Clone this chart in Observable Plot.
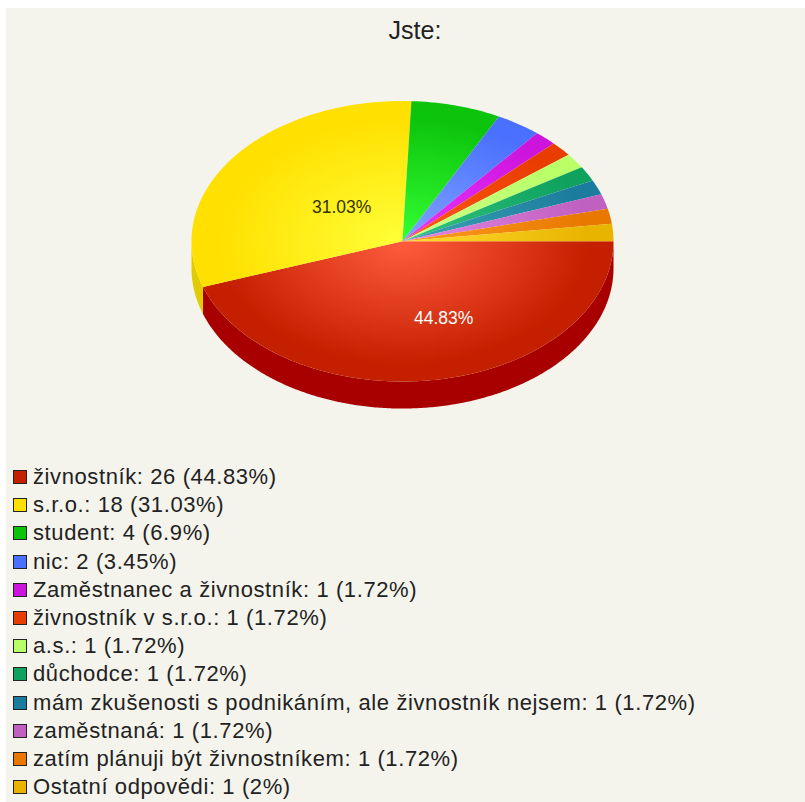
<!DOCTYPE html>
<html lang="cs">
<head>
<meta charset="utf-8">
<title>Jste:</title>
<script src="https://cdn.jsdelivr.net/npm/d3@7"></script>
<script src="https://cdn.jsdelivr.net/npm/@observablehq/plot@0.6"></script>
<style>
  html, body { margin: 0; padding: 0; background: #fff; }
  #page {
    position: absolute; left: 6px; top: 8px; width: 799px; height: 794px;
    background: #f4f4ec; color: #222; font-family: "Liberation Sans", Arial, sans-serif; overflow: hidden;
  }
  #heading { position: absolute; top: 8px; left: 0; width: 818px; text-align: center; font-size: 25px; line-height: 28px; }
  #chart { position: absolute; left: -6px; top: -8px; }
  #legend { position: absolute; left: 7px; top: 455px; font-size: 22px; letter-spacing: 0.6px; }
  .row { display: flex; align-items: center; height: 28.2px; white-space: nowrap; }
  .swatch { box-sizing: border-box; width: 14px; height: 14px; border: 1.5px solid #222; margin-right: 6px; flex: none; }
</style>
</head>
<body>
<div id="page">
  <div id="heading">Jste:</div>
  <div id="chart"></div>
  <div id="legend"></div>
</div>
<script>
const categories = ["živnostník", "s.r.o.", "student", "nic", "Zaměstnanec a živnostník", "živnostník v s.r.o.", "a.s.", "důchodce", "mám zkušenosti s podnikáním, ale živnostník nejsem", "zaměstnaná", "zatím plánuji být živnostníkem", "Ostatní odpovědi"];
const counts = [26, 18, 4, 2, 1, 1, 1, 1, 1, 1, 1, 1];
const shares = [44.83, 31.03, 6.9, 3.45, 1.72, 1.72, 1.72, 1.72, 1.72, 1.72, 1.72, 2];
const outerColors = ["#c42000", "#ffe000", "#0cc40c", "#4a70ff", "#cc14dc", "#e83c00", "#b8ff68", "#0ea25e", "#1c7c9e", "#c060c0", "#e87800", "#e8b400"];
const innerColors = ["#ff5c3e", "#ffff38", "#34ff34", "#80a4ff", "#ea34ff", "#ff5a18", "#ccff88", "#34c482", "#3ea4b4", "#e488e4", "#ff9c20", "#ffdc30"];
const wallColors = ["#a80000", "#e0cc00"];
const labelColors = ["#ffffff", "#333300"];
const labelledSlices = [0, 1];

// Pie geometry in unit coordinates, y growing downward; the scales flatten the circle into an ellipse.
const wallDrop = 27 / 140;
const TAU = Math.PI * 2;
const angles = d3.pie().sort(null).startAngle(0).endAngle(TAU)(shares);
const arcPoints = (a0, a1, r = 1, drop = 0) => {
  const n = Math.max(2, Math.ceil((a1 - a0) / 0.01));
  return d3.range(n + 1).map(i => {
    const t = a0 + (a1 - a0) * i / n;
    return {x: r * Math.cos(t), y: r * Math.sin(t) + drop};
  });
};
const faces = angles.map(s => [{x: 0, y: 0}, ...arcPoints(s.startAngle, s.endAngle)]);
const walls = wallColors.map((_, i) => {
  const a0 = angles[i].startAngle, a1 = Math.min(angles[i].endAngle, Math.PI);
  return [...arcPoints(a0, a1), ...arcPoints(a0, a1, 1, wallDrop).reverse()];
});
const labels = labelledSlices.map(i => {
  const mid = (angles[i].startAngle + angles[i].endAngle) / 2;
  return {x: 0.5 * Math.cos(mid), y: 0.5 * Math.sin(mid), text: `${shares[i]}%`, fill: labelColors[i]};
});

// Radial shading shared by the top faces, defined in the pixel space of the plot.
const gradients = () => {
  const defs = d3.create("svg:defs");
  outerColors.forEach((c, i) => {
    const g = defs.append("radialGradient").attr("id", `slice${i}`)
      .attr("gradientUnits", "userSpaceOnUse")
      .attr("cx", 0).attr("cy", 0).attr("r", 1)
      .attr("gradientTransform", "translate(402 241) scale(211 140)");
    g.append("stop").attr("offset", "0%").attr("stop-color", innerColors[i]);
    g.append("stop").attr("offset", "88%").attr("stop-color", c);
  });
  return defs.node();
};

const plot = Plot.plot({
  width: 805, height: 440,
  margin: 0,
  style: {background: "transparent", overflow: "visible"},
  x: {type: "linear", domain: [-1, 1], range: [191, 613], axis: null},
  y: {type: "linear", domain: [-1, 1], range: [100.5, 381], axis: null},
  marks: [
    gradients,
    ...walls.map((pts, i) => Plot.line(pts, {x: "x", y: "y", fill: wallColors[i], stroke: "none"})),
    ...faces.map((pts, i) => Plot.line(pts, {x: "x", y: "y", fill: `url(#slice${i})`, stroke: "none"})),
    Plot.text(labels, {x: "x", y: "y", text: "text", fill: "fill", textAnchor: "start", dx: -6, dy: 8, fontSize: 17.5, fontFamily: "Liberation Sans"})
  ]
});
document.getElementById("chart").append(plot);

// Legend rows below the pie.
const legend = d3.select("#legend");
categories.forEach((name, i) => {
  const row = legend.append("div").attr("class", "row");
  row.append("span").attr("class", "swatch").style("background", outerColors[i]);
  row.append("span").text(`${name}: ${counts[i]} (${shares[i]}%)`);
});
</script>
</body>
</html>
